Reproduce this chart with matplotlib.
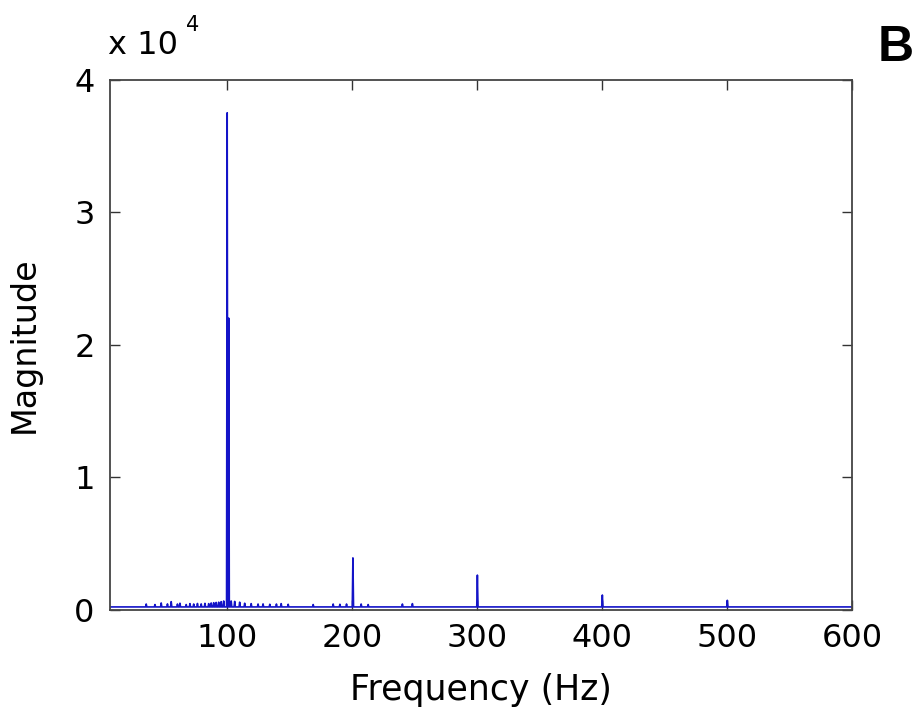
import numpy as np
import matplotlib.pyplot as plt
from matplotlib.ticker import FuncFormatter

plt.rcParams['font.family'] = ['DejaVu Sans']

# spectrum: baseline level plus single-bin spikes
f_start = 6.0
f_end = 600.0
baseline = 200.0

spike_freq = [35, 42, 47, 52, 55, 60, 62, 67, 70, 73, 76, 79, 82, 85, 87, 89, 91, 93, 95, 97,
              99.8, 101.0,
              103, 105.8, 109.8, 113.8, 119, 124.5, 128.5, 133.9, 139.2, 143, 148.6, 168.6,
              184.6, 190, 195.3, 200.4, 207, 212.6, 240, 248, 300, 400, 500]
spike_mag = [420, 380, 500, 430, 600, 420, 480, 380, 450, 420, 460, 430, 470, 450, 500, 520, 540, 560, 600, 650,
             37500, 22000,
             650, 620, 560, 480, 450, 420, 430, 400, 420, 450, 400, 380,
             420, 400, 420, 3900, 420, 380, 420, 450, 2600, 1100, 700]

x = [f_start]
y = [baseline]
for f, m in zip(spike_freq, spike_mag):
    x += [f - 0.5, f, f + 0.5]
    y += [baseline, m, baseline]
x.append(f_end)
y.append(baseline)

fig = plt.figure(figsize=(9.21, 7.18), dpi=100)
ax = fig.add_axes([0.1194, 0.151, 0.806, 0.738])
ax.plot(x, y, color='#1414c8', lw=1.2)

ax.set_xlim(f_start, f_end)
ax.set_ylim(0, 40000)
ax.set_xticks([100, 200, 300, 400, 500, 600])
ax.set_yticks([0, 10000, 20000, 30000, 40000])
ax.yaxis.set_major_formatter(FuncFormatter(lambda v, p: '%d' % round(v / 1e4)))
ax.tick_params(direction='in', length=7, width=1, top=True, right=True,
               labelsize=23, color='#333333')
ax.tick_params(axis='x', pad=10)
ax.tick_params(axis='y', pad=11)
for s in ax.spines.values():
    s.set_linewidth(1.3)
    s.set_color('#444444')

ax.set_xlabel('Frequency (Hz)', fontsize=25, labelpad=13)
ax.set_ylabel('Magnitude', fontsize=24, labelpad=24)

fig.text(0.117, 0.925, 'x 10', fontsize=23, ha='left', va='baseline')
fig.text(0.202, 0.957, '4', fontsize=15, ha='left', va='baseline')
fig.text(0.953, 0.915, 'B', fontsize=36, fontweight='bold', ha='left', va='baseline',
         family='Liberation Sans')

fig.savefig('out.png', dpi=100)
